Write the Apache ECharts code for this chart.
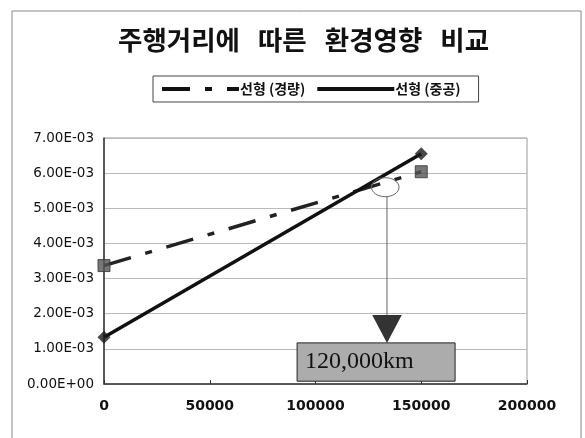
<!DOCTYPE html>
<html>
<head>
<meta charset="utf-8">
<script src="https://cdn.jsdelivr.net/npm/echarts@6/dist/echarts.min.js"></script>
<style>
  html, body { margin: 0; padding: 0; background: #fff; }
  #chart { width: 585px; height: 438px; }
</style>
</head>
<body>
<div id="chart"></div>
<script>
// Chart text and data
const titleText = '주행거리에   따른   환경영향   비교';
const seriesNames = ['선형 (경량)', '선형 (중공)'];
const distance = [0, 150000];            // km
const lightValues = [3.37e-3, 6.04e-3];  // 선형 (경량)
const hollowValues = [1.33e-3, 6.55e-3]; // 선형 (중공)
const xRange = [0, 200000, 50000];
const yRange = [0, 0.007, 0.001];
const crossoverLabel = '120,000km';

// Callout anchors, in data units
const circleCenter = [133000, 5.6e-3];
const arrowX = 133800;
const arrowTop = 1.96e-3;
const arrowTip = 1.17e-3;
const boxX = [91300, 166000];
const boxY = [0.08e-3, 1.17e-3];

const KR = '"Noto Sans CJK KR", "Liberation Sans", sans-serif';
const DEJAVU = '"DejaVu Sans", "Liberation Sans", sans-serif';
const LIGHT_DASH = [28, 15, 7, 15];

function sciLabel(v) {
  const parts = Number(v).toExponential(2).split('e');
  const e = parseInt(parts[1], 10);
  return parts[0] + 'E' + (e < 0 ? '-' : '+') + String(Math.abs(e)).padStart(2, '0');
}

const chart = echarts.init(document.getElementById('chart'), null, { renderer: 'canvas' });

const lightPairs = distance.map((d, i) => [d, lightValues[i]]);
const hollowPairs = distance.map((d, i) => [d, hollowValues[i]]);

chart.setOption({
  animation: false,
  backgroundColor: '#fff',
  title: {
    text: titleText,
    left: 113,
    top: 22,
    textStyle: { fontFamily: KR, fontSize: 26.5, fontWeight: 'bold', color: '#111' }
  },
  legend: {
    data: [
      { name: seriesNames[0], itemStyle: { opacity: 0 },
        lineStyle: { color: '#111', width: 4, type: LIGHT_DASH, opacity: 1 } },
      { name: seriesNames[1], itemStyle: { opacity: 0 },
        lineStyle: { color: '#111', width: 4, type: 'solid', opacity: 1 } }
    ],
    left: 153,
    top: 76,
    padding: [6, 18, 6, 7],
    itemGap: 10,
    itemWidth: 77,
    itemHeight: 14,
    borderColor: '#444',
    borderWidth: 1,
    textStyle: { fontFamily: KR, fontSize: 14, fontWeight: 'bold', color: '#111', padding: [0, 0, 0, -4] }
  },
  grid: {
    left: 104, right: 58, top: 138, bottom: 54,
    show: true, borderColor: '#999', borderWidth: 1
  },
  xAxis: {
    type: 'value',
    min: xRange[0], max: xRange[1], interval: xRange[2],
    axisLine: { show: true, lineStyle: { color: '#333', width: 1.5 } },
    axisTick: { show: true, inside: true, length: 4, lineStyle: { color: '#333' } },
    splitLine: { show: false },
    axisLabel: { fontFamily: DEJAVU, fontSize: 14, fontWeight: 'bold', color: '#111', margin: 15,
                 formatter: v => String(v) }
  },
  yAxis: {
    type: 'value',
    min: yRange[0], max: yRange[1], interval: yRange[2],
    axisLine: { show: true, lineStyle: { color: '#333', width: 1.5 } },
    axisTick: { show: false },
    splitLine: { show: true, lineStyle: { color: '#bbb', width: 1 } },
    axisLabel: { fontFamily: DEJAVU, fontSize: 13.5, color: '#111', margin: 10, formatter: sciLabel }
  },
  series: [
    {
      name: seriesNames[0], type: 'line', data: lightPairs,
      symbol: 'none', z: 3,
      itemStyle: { color: '#222' },
      lineStyle: { color: '#222', width: 3.5, type: LIGHT_DASH }
    },
    {
      name: seriesNames[1], type: 'line', data: hollowPairs,
      symbol: 'none', z: 3,
      itemStyle: { color: '#111' },
      lineStyle: { color: '#111', width: 3.5, type: 'solid' }
    },
    {
      name: 'light-markers', type: 'scatter', data: lightPairs, z: 4,
      symbol: 'rect', symbolSize: 12,
      itemStyle: { color: '#555', borderColor: '#333', borderWidth: 1 }
    },
    {
      name: 'hollow-markers', type: 'scatter', data: hollowPairs, z: 4,
      symbol: 'diamond', symbolSize: 13,
      itemStyle: { color: '#1a1a1a' }
    }
  ]
});

// Crossover callout: circle, leader line, arrowhead and label box
function px(pt) { return chart.convertToPixel({ gridIndex: 0 }, pt); }
const c = px(circleCenter);
const cEdge = px([circleCenter[0] + 6500, circleCenter[1] - 0.27e-3]);
const aTop = px([arrowX, arrowTop]);
const aTip = px([arrowX, arrowTip]);
const aHalf = px([arrowX + 7000, arrowTop]);
const bTL = px([boxX[0], boxY[1]]);
const bBR = px([boxX[1], boxY[0]]);
const halfW = aHalf[0] - aTop[0];
const rx = cEdge[0] - c[0];
const ry = cEdge[1] - c[1];

chart.setOption({
  graphic: [
    { type: 'rect', silent: true, z: 0,
      shape: { x: 12, y: 11, width: 569, height: 440 },
      style: { fill: 'none', stroke: '#888', lineWidth: 1 } },
    { type: 'ellipse', silent: true, z: 10,
      shape: { cx: c[0], cy: c[1], rx: rx, ry: ry },
      style: { fill: 'none', stroke: '#666', lineWidth: 1 } },
    { type: 'line', silent: true, z: 10,
      shape: { x1: aTop[0], y1: c[1] + ry, x2: aTop[0], y2: aTop[1] },
      style: { stroke: '#666', lineWidth: 1 } },
    { type: 'polygon', silent: true, z: 10,
      shape: { points: [[aTop[0] - halfW, aTop[1]], [aTop[0] + halfW, aTop[1]], [aTip[0], aTip[1]]] },
      style: { fill: '#333' } },
    { type: 'rect', silent: true, z: 10,
      shape: { x: bTL[0], y: bTL[1], width: bBR[0] - bTL[0], height: bBR[1] - bTL[1] },
      style: { fill: '#acacac', stroke: '#222', lineWidth: 1 } },
    { type: 'text', silent: true, z: 11,
      x: bTL[0] + 8, y: (bTL[1] + bBR[1]) / 2,
      style: { text: crossoverLabel, fill: '#111', font: '24px "Liberation Serif", serif',
               verticalAlign: 'middle', align: 'left' } }
  ]
});
</script>
</body>
</html>
